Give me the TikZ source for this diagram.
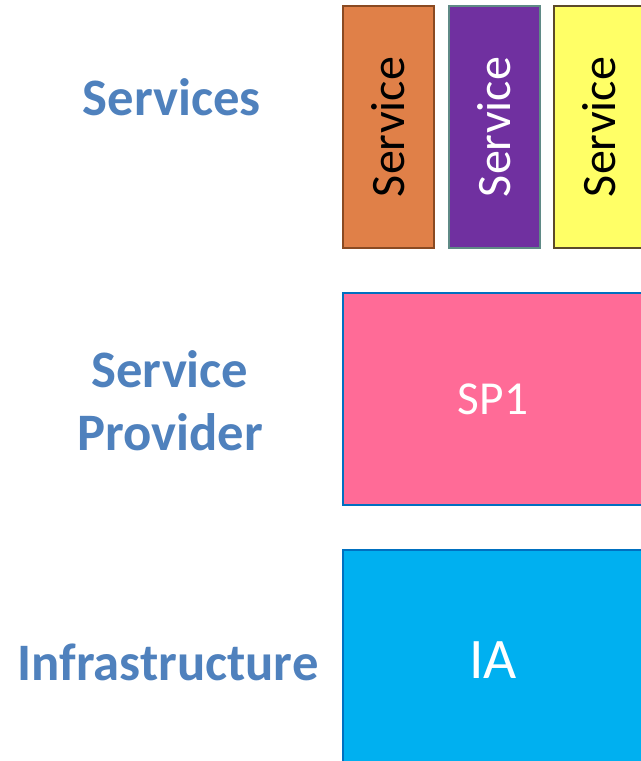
\documentclass[tikz,border=0pt]{standalone}
\usepackage{fontspec}
\setmainfont{Carlito}
\usetikzlibrary{positioning}
\definecolor{labelblue}{HTML}{4F81BD}
\definecolor{svcorange}{HTML}{E08048}
\definecolor{svcorangeline}{HTML}{8A4A22}
\definecolor{svcpurple}{HTML}{7030A0}
\definecolor{svcpurpleline}{HTML}{5F8A86}
\definecolor{svcyellow}{HTML}{FFFF66}
\definecolor{svcyellowline}{HTML}{5C4A2A}
\definecolor{sppink}{HTML}{FF6B97}
\definecolor{iacyan}{HTML}{00B0F0}
\definecolor{layerline}{HTML}{0070C0}
\begin{document}
\begin{tikzpicture}[x=0.75pt,y=-0.75pt]
\tikzstyle{layer} = [align=center, text=labelblue, font=\bfseries\fontsize{39.5}{47}\selectfont]
\tikzstyle{service} = [rectangle, rotate=90, minimum width=181.5pt, minimum height=68.25pt, line width=1.6pt, font=\fontsize{36}{40}\selectfont]
\tikzstyle{block} = [rectangle, minimum width=225pt, line width=1.9pt, draw=layerline, text=white]
%
\useasboundingbox (0,0) rectangle (641,761);
\clip (0,0) rectangle (641,761);
%
\node (services) [layer] at (172,97)  {Services};
\node (provider) [layer] at (170,401) {Service\\Provider};
\node (infra)    [layer] at (168,662) {Infrastructure};
%
\node (svc1) [service, fill=svcorange, draw=svcorangeline]             at (388.5,127) {Service};
\node (svc2) [service, fill=svcpurple, draw=svcpurpleline, text=white] at (494.5,127) {Service};
\node (svc3) [service, fill=svcyellow, draw=svcyellowline]             at (599.5,127) {Service};
%
\node (sp1) [block, fill=sppink, minimum height=159pt, font=\fontsize{35.5}{40}\selectfont] at (493,399) {SP1};
\node (ia)  [block, fill=iacyan, minimum height=165pt, font=\fontsize{43}{50}\selectfont]   at (493,660) {IA};
\end{tikzpicture}
\end{document}
